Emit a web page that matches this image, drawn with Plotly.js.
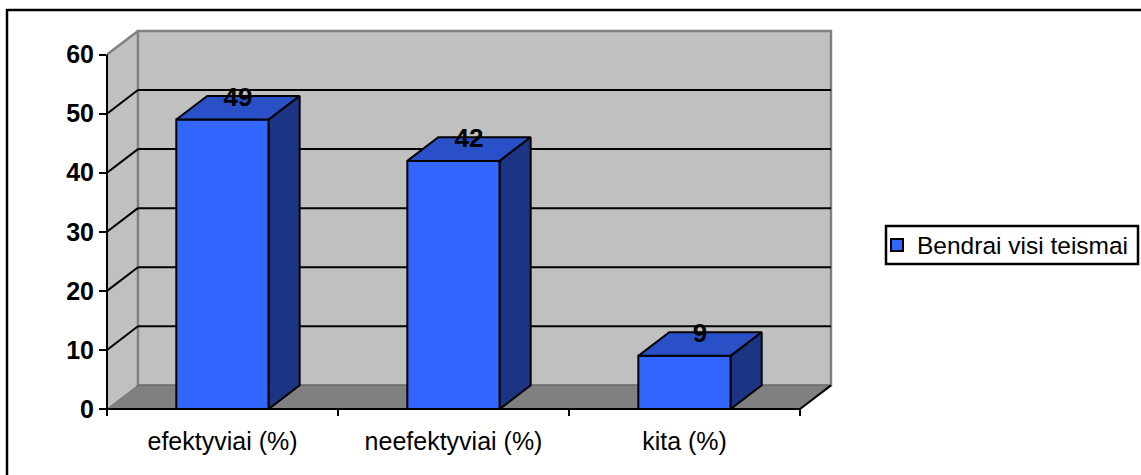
<!DOCTYPE html>
<html>
<head>
<meta charset="utf-8">
<script src="https://cdn.plot.ly/plotly-3.0.1.min.js"></script>
<style>
  html, body { margin: 0; padding: 0; background: #ffffff; }
  #chart { width: 1141px; height: 475px; }
</style>
</head>
<body>
<div id="chart"></div>
<script>
// Categories, values and axis ticks
const categories = ['efektyviai (%)', 'neefektyviai (%)', 'kita (%)'];
const values = [49, 42, 9];
const seriesName = 'Bendrai visi teismai';
const yTicks = [0, 10, 20, 30, 40, 50, 60];

// Pseudo-3D geometry (in axis units)
const DX = 0.134;      // depth offset along x
const DY = 4;          // depth offset along y
const BAR_W = 0.4;
const X_MIN = -0.5, X_MAX = categories.length - 0.5;
const Y_MAX = yTicks[yTicks.length - 1];

const FRONT = '#3366FF', TOP = '#2A50C8', SIDE = '#1B3584';
const WALL = '#C0C0C0', FLOOR = '#808080', EDGE = '#808080';
const FONT = 'Liberation Sans, Arial, sans-serif';

const xs = categories.map((_, i) => i);

const traces = [];

// Front faces of the columns
traces.push({
  type: 'bar', x: xs, y: values, width: BAR_W, name: seriesName,
  marker: { color: FRONT, line: { color: '#000', width: 2 } },
  hoverinfo: 'skip', showlegend: true
});

// Top and right-hand faces of each column
values.forEach((v, i) => {
  const x0 = i - BAR_W / 2, x1 = i + BAR_W / 2;
  traces.push({
    type: 'scatter', mode: 'lines', fill: 'toself', fillcolor: TOP,
    x: [x0, x1, x1 + DX, x0 + DX, x0],
    y: [v, v, v + DY, v + DY, v],
    line: { color: '#000', width: 2 }, hoverinfo: 'skip', showlegend: false
  });
  traces.push({
    type: 'scatter', mode: 'lines', fill: 'toself', fillcolor: SIDE,
    x: [x1, x1 + DX, x1 + DX, x1, x1],
    y: [0, DY, v + DY, v, 0],
    line: { color: '#000', width: 2 }, hoverinfo: 'skip', showlegend: false
  });
});

// Value labels above the columns
traces.push({
  type: 'scatter', mode: 'text',
  x: xs.map(i => i + DX / 2), y: values.map(v => v + DY - 0.6),
  text: values.map(String), textposition: 'middle center',
  textfont: { family: FONT, size: 26, color: '#000', weight: 'bold' },
  cliponaxis: false, hoverinfo: 'skip', showlegend: false
});

// Plot area size in pixels and axis units
const plotW = 730, plotH = 381;
const xUnits = 3.16, yUnits = 64.5;
const pxX = px => (px - 107) / plotW;     // page x -> paper x
const pxY = py => (409 - py) / plotH;     // page y -> paper y

// Walls, floor and grid
const shapes = [];
const P = pts => 'M' + pts.map(p => p[0] + ',' + p[1]).join('L') + 'Z';

// left side wall
shapes.push({ type: 'path', layer: 'below', xref: 'x', yref: 'y',
  path: P([[X_MIN, 0], [X_MIN + DX, DY], [X_MIN + DX, Y_MAX + DY], [X_MIN, Y_MAX]]),
  fillcolor: WALL, line: { width: 0 } });
// back wall
shapes.push({ type: 'rect', layer: 'below', xref: 'x', yref: 'y',
  x0: X_MIN + DX, x1: X_MAX + DX, y0: DY, y1: Y_MAX + DY,
  fillcolor: WALL, line: { color: EDGE, width: 2.5 } });
// floor
shapes.push({ type: 'path', layer: 'below', xref: 'x', yref: 'y',
  path: P([[X_MIN, 0], [X_MAX, 0], [X_MAX + DX, DY], [X_MIN + DX, DY]]),
  fillcolor: FLOOR, line: { color: '#6E6E6E', width: 1 } });
// top edge of the side wall
shapes.push({ type: 'line', layer: 'below', xref: 'x', yref: 'y',
  x0: X_MIN, y0: Y_MAX, x1: X_MIN + DX, y1: Y_MAX + DY,
  line: { color: EDGE, width: 2.5 } });
// right edge of the floor
shapes.push({ type: 'line', layer: 'below', xref: 'x', yref: 'y',
  x0: X_MAX, y0: 0, x1: X_MAX + DX, y1: DY,
  line: { color: '#000', width: 2 } });

// gridlines on the back wall plus their diagonals on the side wall
yTicks.filter(t => t > 0 && t < Y_MAX).forEach(t => {
  shapes.push({ type: 'line', layer: 'below', xref: 'x', yref: 'y',
    x0: X_MIN + DX, x1: X_MAX + DX, y0: t + DY, y1: t + DY,
    line: { color: '#000', width: 2 } });
  shapes.push({ type: 'line', layer: 'below', xref: 'x', yref: 'y',
    x0: X_MIN, y0: t, x1: X_MIN + DX, y1: t + DY,
    line: { color: '#000', width: 2 } });
});

// axis lines and category boundary ticks
const tickDrop = 7 / plotH;
shapes.push({ type: 'line', layer: 'above', xref: 'paper', yref: 'paper',
  x0: 0, x1: 0, y0: -tickDrop, y1: Y_MAX / yUnits, line: { color: '#000', width: 2 } });
shapes.push({ type: 'line', layer: 'above', xref: 'x', yref: 'paper',
  x0: X_MIN, x1: X_MAX, y0: 0, y1: 0, line: { color: '#000', width: 2 } });
for (let i = 1; i <= categories.length; i++) {
  shapes.push({ type: 'line', layer: 'above', xref: 'x', yref: 'paper',
    x0: X_MIN + i, x1: X_MIN + i, y0: 0, y1: -tickDrop, line: { color: '#000', width: 2 } });
}

// legend frame
shapes.push({ type: 'rect', layer: 'above', xref: 'paper', yref: 'paper',
  x0: pxX(886), x1: pxX(1138), y0: pxY(264), y1: pxY(226),
  line: { color: '#000', width: 2.5 }, fillcolor: 'rgba(0,0,0,0)' });

// outer chart frame
shapes.push({ type: 'rect', layer: 'above', xref: 'paper', yref: 'paper',
  x0: pxX(7), x1: pxX(1150), y0: pxY(485), y1: pxY(10),
  line: { color: '#000', width: 2.5 }, fillcolor: 'rgba(0,0,0,0)' });

const layout = {
  width: 1141, height: 475,
  margin: { l: 107, r: 1141 - 107 - plotW, t: 475 - 66 - plotH, b: 66, pad: 0, autoexpand: false },
  paper_bgcolor: '#ffffff', plot_bgcolor: 'rgba(0,0,0,0)',
  font: { family: FONT, color: '#000' },
  showlegend: true,
  legend: {
    x: pxX(877), xanchor: 'left', y: pxY(245), yanchor: 'middle',
    bgcolor: 'rgba(0,0,0,0)', borderwidth: 0,
    font: { family: FONT, size: 24.5, color: '#000' }
  },
  xaxis: {
    range: [X_MIN, X_MIN + xUnits], showgrid: false, zeroline: false, showline: false,
    tickmode: 'array', tickvals: xs, ticktext: categories,
    ticks: 'outside', ticklen: 10, tickcolor: 'rgba(0,0,0,0)',
    tickfont: { family: FONT, size: 25, color: '#000' }, fixedrange: true
  },
  yaxis: {
    range: [0, yUnits], showgrid: false, zeroline: false, showline: false,
    tickmode: 'array', tickvals: yTicks,
    ticks: 'outside', ticklen: 7, tickwidth: 2, tickcolor: '#000',
    tickfont: { family: FONT, size: 25, color: '#000', weight: 'bold' }, fixedrange: true
  },
  shapes: shapes,
  bargap: 0
};

Plotly.newPlot('chart', traces, layout, { staticPlot: true, displayModeBar: false });
</script>
</body>
</html>
